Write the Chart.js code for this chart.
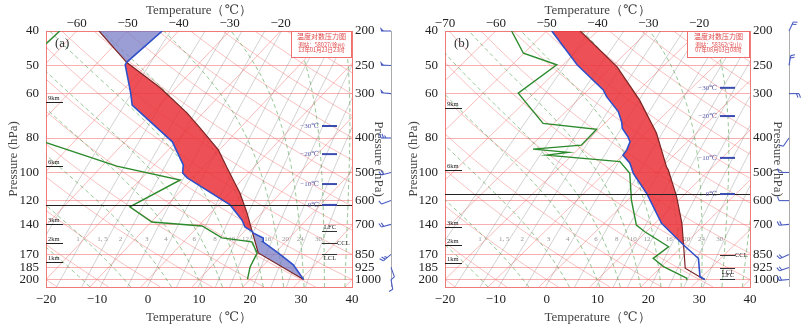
<!DOCTYPE html>
<html>
<head>
<meta charset="utf-8">
<script src="https://cdn.jsdelivr.net/npm/chart.js@4.4.0/dist/chart.umd.min.js"></script>
<style>
body { margin: 0; background: #fff; }
#wrap { position: relative; width: 812px; height: 330px; }
.panel { position: absolute; top: 0; height: 330px; }
</style>
</head>
<body>
<div id="wrap">
  <div class="panel" style="left:0;width:400px"><canvas id="chartA"></canvas></div>
  <div class="panel" style="left:400px;width:412px"><canvas id="chartB"></canvas></div>
</div>
<script>
// ---- values ----
var pressureTicks = [200, 250, 300, 400, 500, 600, 700, 850, 925, 1000];
var bottomTempTicks = [-20, -10, 0, 10, 20, 30, 40];
var topTempTicksA = [-60, -50, -40, -30, -20];
var topTempTicksB = [-70, -60, -50, -40, -30, -20];

// (a) 58027 徐州
var envP_A = [1000, 910, 842, 784, 764, 740, 732, 712, 680, 617, 518, 502, 476, 410, 323, 299, 249, 245, 200];
var envT_A = [30.5, 25.8, 20.6, 15.6, 14.9, 12.0, 11.5, 9.3, 7.4, 2.3, -11.1, -12.9, -14.3, -20.7, -35.4, -37.9, -44.2, -44.4, -43.2];
var parP_A = [1000, 842, 732, 650, 571, 486, 432, 375, 340, 289, 245, 200];
var parT_A = [30.5, 16.7, 11.5, 7.1, 2.0, -5.1, -10.2, -17.8, -23.2, -33.1, -44.4, -55.6];
var dewP_A = [1000, 922, 842, 784, 764, 707, 689, 625, 525, 480, 413, 300, 216, 200];
var dewT_A = [19.5, 17.7, 16.5, 13.4, 6.8, 0.7, -9.9, -17.0, -12.1, -27.1, -45.1, -70, -63.6, -63.3];
var heightP_A = [317, 478, 699, 791, 891];
var isoP_A = [370, 444, 539, 617];
var levelP_A = [730, 790, 848];
var levelNames_A = ['LFC', 'CCL', 'LCL'];
var windDir_A = [270, 272, 275, 270, 255, 250, 255, 230, 160, 170];
var windSpd_A = [20, 20, 24, 12, 6, 2, 8, 10, 4, 4];
var title_A = ['温度对数压力图', '测站：58027(徐州)', '13年01月23日23时'];

// (b) 58362 宝山
var envP_B = [1000, 982, 872, 863, 800, 695, 572, 503, 471, 447, 432, 410, 397, 376, 360, 337, 306, 293, 249, 200];
var envT_B = [31.1, 29.6, 25.6, 24.9, 20.0, 11.3, 2.3, -4.3, -7.0, -10.0, -10.3, -11.3, -12.7, -15.5, -17.0, -19.7, -25.0, -27.0, -37.2, -49.0];
var parP_B = [1000, 992, 930, 800, 695, 585, 492, 482, 388, 313, 252, 200];
var parT_B = [31.1, 30.3, 25.0, 20.0, 15.3, 8.9, 1.9, 0.9, -7.8, -17.8, -29.0, -43.4];
var dewP_B = [1000, 992, 920, 872, 809, 734, 703, 598, 503, 466, 447, 439, 430, 419, 378, 364, 299, 249, 231, 200];
var dewT_B = [27.5, 27.3, 20.4, 16.7, 17.4, 9.7, 6.7, 0.7, -5.0, -9.3, -25.0, -21.3, -28.9, -20.2, -20.4, -32.1, -43.1, -41.2, -50.1, -56.9];
var heightP_B = [330, 492, 710, 800, 897];
var isoP_B = [289, 347, 455, 575];
var levelP_B = [853, 929, 995];
var levelNames_B = ['CCL', 'LCL', 'LFC'];
var windDir_B = [25, 10, 90, 215, 270, 270, 265, 245, 250, 265];
var windSpd_B = [6, 6, 6, 4, 4, 2, 6, 6, 6, 8];
var title_B = ['温度对数压力图', '测站：58362(宝山)', '07年08月03日08时'];

var heightNames = ['9km', '6km', '3km', '2km', '1km'];
var isoNames = ['\u221230℃', '\u221220℃', '\u221210℃', '0℃'];

// background reference lines (chart grid, not data)
var isotherms = [];
for (var t = -140; t <= 40; t += 10) isotherms.push(t);
var dryThetas = [];
for (var th = -30; th <= 190; th += 10) dryThetas.push(th);
var moistStarts = [-20, -10, -2, 6, 12, 16, 20, 24, 28, 32, 36, 40];
var mixRatios = [0.5, 1, 1.5, 2, 3, 4, 6, 8, 10, 12, 16, 20, 24, 30];

var serif = "'Liberation Serif', 'DejaVu Serif', serif";
var cjk = "'Noto Sans CJK SC', sans-serif";
Chart.defaults.font.family = serif;
Chart.defaults.color = '#333';

function skewX(T, p, shift) { return T + shift * Math.log(1000 / p) / Math.log(5); }
function toPoints(P, T, shift) {
    return P.map(function (p, i) { return { x: skewX(T[i], p, shift), y: p }; });
}
function between(P, T, lo, hi, shift) {
    var out = [];
    P.forEach(function (p, i) { if (p >= lo && p <= hi) out.push({ x: skewX(T[i], p, shift), y: p }); });
    return out;
}
function minus(v) { return v < 0 ? '\u2212' + Math.abs(v) : '' + v; }

function moistCurve(T0, steps) {
    var out = [], T = T0 + 273.15, p = steps[0];
    out.push(T0);
    for (var i = 1; i < steps.length; i++) {
        for (var k = 0; k < 5; k++) {
            var Tc = T - 273.15;
            var es = 6.112 * Math.exp(17.67 * Tc / (Tc + 243.5));
            var rs = 0.622 * es / (p - es);
            var num = 287.04 * T + 2.501e6 * rs;
            var den = 1005.7 + 2.501e6 * 2.501e6 * rs * 0.622 / (287.04 * T * T);
            T += num / den / p * -2;
            p -= 2;
        }
        out.push(T - 273.15);
    }
    return out;
}
function mixTd(w, p) {
    var e = (w / 1000) * p / (0.622 + w / 1000);
    var l = Math.log(e / 6.112);
    return 243.5 * l / (17.67 - l);
}

function makeBackground(shift) {
    return {
        id: 'skewBackground',
        beforeDatasetsDraw: function (chart) {
            var ctx = chart.ctx, a = chart.chartArea, xs = chart.scales.x, ys = chart.scales.y;
            var steps = [];
            for (var p = 1050; p >= 200; p -= 10) steps.push(p);
            function curve(Ts, Ps, color, width, dash) {
                ctx.beginPath();
                Ps.forEach(function (pp, i) {
                    var X = xs.getPixelForValue(skewX(Ts[i], pp, shift)), Y = ys.getPixelForValue(pp);
                    if (i === 0) ctx.moveTo(X, Y); else ctx.lineTo(X, Y);
                });
                ctx.strokeStyle = color; ctx.lineWidth = width; ctx.setLineDash(dash || []); ctx.stroke();
            }
            ctx.save();
            ctx.beginPath(); ctx.rect(a.left, a.top, a.right - a.left, a.bottom - a.top); ctx.clip();
            mixRatios.forEach(function (w) {
                curve(steps.map(function (pp) { return mixTd(w, pp); }), steps, 'rgba(110,110,110,0.45)', 0.7);
            });
            isotherms.forEach(function (T) {
                curve([T, T], [1050, 200], 'rgba(240,100,100,0.55)', 0.8);
            });
            dryThetas.forEach(function (th) {
                curve(steps.map(function (pp) { return (th + 273.15) * Math.pow(pp / 1000, 0.286) - 273.15; }), steps, 'rgba(240,100,100,0.5)', 0.8);
            });
            moistStarts.forEach(function (T0) {
                curve(moistCurve(T0, steps), steps, 'rgba(60,150,60,0.6)', 0.9, [4, 3]);
            });
            // mixing ratio labels
            ctx.setLineDash([]);
            ctx.font = '7px ' + serif; ctx.fillStyle = 'rgba(120,120,120,0.8)'; ctx.textAlign = 'center';
            mixRatios.forEach(function (w) {
                var X = xs.getPixelForValue(skewX(mixTd(w, 780), 780, shift));
                ctx.fillText(('' + w).replace('.', ', '), X - 4, ys.getPixelForValue(780));
            });
            ctx.restore();
        }
    };
}

function drawBarb(ctx, x, y, dir, spd) {
    var L = 10, r = dir * Math.PI / 180, dx = Math.sin(r), dy = -Math.cos(r);
    var ex = x + dx * L, ey = y + dy * L;
    ctx.beginPath(); ctx.moveTo(x, y); ctx.lineTo(ex, ey); ctx.stroke();
    if (spd >= 20) {
        // pennant
        ctx.beginPath(); ctx.moveTo(ex, ey);
        ctx.lineTo(ex - dy * 4 + dx * 1, ey + dx * 4 + dy * 1);
        ctx.lineTo(ex - dx * 3, ey - dy * 3); ctx.closePath(); ctx.fill();
        return;
    }
    var n = Math.max(1, Math.round(spd / 4));
    ctx.beginPath();
    for (var i = 0; i < Math.min(n, 3); i++) {
        var bx = ex - dx * i * 2.5, by = ey - dy * i * 2.5;
        var len = (i === Math.min(n, 3) - 1 && n % 2 === 1 && n > 1) ? 2.5 : 4;
        ctx.moveTo(bx, by); ctx.lineTo(bx - dy * len + dx * 1.5, by + dx * len + dy * 1.5);
    }
    ctx.stroke();
}

function makeAnnotations(d) {
    return {
        id: 'skewAnnotations',
        afterDraw: function (chart) {
            var ctx = chart.ctx, a = chart.chartArea, ys = chart.scales.y;
            ctx.save();
            // 0 degree level line
            var y0 = Math.round(ys.getPixelForValue(d.isoP[3])) + 0.5;
            ctx.strokeStyle = '#222'; ctx.lineWidth = 1;
            ctx.beginPath(); ctx.moveTo(a.left, y0); ctx.lineTo(a.right, y0); ctx.stroke();
            // panel label
            ctx.font = '13px ' + serif; ctx.fillStyle = '#333'; ctx.textAlign = 'left'; ctx.textBaseline = 'middle';
            ctx.fillText(d.label, a.left + 9, a.top + 13);
            // title box
            var bw = d.boxW, bx = a.right - bw;
            ctx.fillStyle = '#fff'; ctx.fillRect(bx, a.top, bw, 26);
            ctx.strokeStyle = '#f07070'; ctx.lineWidth = 1; ctx.strokeRect(bx + 0.5, a.top + 0.5, bw - 1, 26);
            ctx.fillStyle = '#e04848'; ctx.textAlign = 'center';
            ctx.font = '7px ' + cjk; ctx.fillText(d.title[0], bx + bw / 2, a.top + 5);
            ctx.font = '5.5px ' + cjk;
            ctx.fillText(d.title[1], bx + bw / 2, a.top + 13.5);
            ctx.fillText(d.title[2], bx + bw / 2, a.top + 19);
            // height marks
            ctx.font = '6.5px ' + serif; ctx.textAlign = 'left'; ctx.textBaseline = 'bottom';
            ctx.strokeStyle = '#222'; ctx.fillStyle = '#222'; ctx.lineWidth = 1;
            d.heightP.forEach(function (p, i) {
                var y = Math.round(ys.getPixelForValue(p)) + 0.5;
                ctx.beginPath(); ctx.moveTo(a.left, y); ctx.lineTo(a.left + 17, y); ctx.stroke();
                ctx.fillText(heightNames[i], a.left + 2, y - 1);
            });
            // isotherm heights
            ctx.textAlign = 'right'; ctx.textBaseline = 'middle'; ctx.font = '7px ' + serif;
            d.isoP.forEach(function (p, i) {
                var y = ys.getPixelForValue(p);
                ctx.fillStyle = '#5a5aa8'; ctx.fillText(isoNames[i], a.right - 33, y);
                ctx.strokeStyle = '#3a4cb0'; ctx.lineWidth = 2;
                ctx.beginPath(); ctx.moveTo(a.right - 30, y); ctx.lineTo(a.right - 15, y); ctx.stroke();
            });
            // LFC / CCL / LCL
            ctx.font = '6.5px ' + serif; ctx.fillStyle = '#222'; ctx.strokeStyle = '#333'; ctx.lineWidth = 1;
            d.levelP.forEach(function (p, i) {
                var y = Math.round(ys.getPixelForValue(p)) + 0.5, name = d.levelNames[i];
                ctx.beginPath(); ctx.moveTo(a.right - 30, y); ctx.lineTo(a.right - 15, y); ctx.stroke();
                if (name === 'CCL') { ctx.textAlign = 'left'; ctx.textBaseline = 'middle'; ctx.fillText(name, a.right - 15, y); }
                else if (name === 'LFC') { ctx.textAlign = 'center'; ctx.textBaseline = 'bottom'; ctx.fillText(name, a.right - 22, y - 1); }
                else { ctx.textAlign = 'center'; ctx.textBaseline = 'top'; ctx.fillText(name, a.right - 22, y + 1); }
            });
            // wind barbs
            ctx.strokeStyle = '#aaa'; ctx.lineWidth = 1;
            ctx.beginPath(); ctx.moveTo(d.barbX + 0.5, a.top); ctx.lineTo(d.barbX + 0.5, a.bottom); ctx.stroke();
            ctx.strokeStyle = '#4a5cc0'; ctx.fillStyle = '#4a5cc0'; ctx.lineWidth = 1.1;
            pressureTicks.forEach(function (p, i) {
                drawBarb(ctx, d.barbX, ys.getPixelForValue(p), d.windDir[i], d.windSpd[i]);
            });
            ctx.restore();
        }
    };
}

function makePanel(id, d) {
    var sh = d.shift, frame = '#ee7a7a';
    var datasets = [];
    d.fills.forEach(function (f) {
        var env = between(d.envP, d.envT, f[0], f[1], sh);
        var par = between(d.parP, d.parT, f[0], f[1], sh).reverse();
        datasets.push({ data: env.concat(par), showLine: true, fill: 'shape', backgroundColor: f[2],
            borderWidth: 0, pointRadius: 0, order: 10 });
    });
    datasets.push({ label: 'T', data: toPoints(d.envP, d.envT, sh), showLine: true, borderColor: '#2f4fc9', borderWidth: 1.6, pointRadius: 0, fill: false, order: 0 });
    datasets.push({ label: 'Parcel', data: toPoints(d.parP, d.parT, sh), showLine: true, borderColor: '#7b2424', borderWidth: 1.2, pointRadius: 0, fill: false, order: 1 });
    datasets.push({ label: 'Td', data: toPoints(d.dewP, d.dewT, sh), showLine: true, borderColor: '#2c8a2c', borderWidth: 1.4, pointRadius: 0, fill: false, order: 2 });

    var tickFont = { size: 13, family: serif };
    var titleFont = { size: 13, family: serif };
    new Chart(document.getElementById(id).getContext('2d'), {
        type: 'scatter',
        data: { datasets: datasets },
        options: {
            responsive: true, maintainAspectRatio: false, animation: false,
            layout: { padding: { left: 0, right: d.padRight, top: 0, bottom: 0 } },
            plugins: { legend: { display: false }, tooltip: { enabled: false } },
            scales: {
                x: {
                    type: 'linear', position: 'bottom', min: -20, max: 40,
                    afterBuildTicks: function (s) { s.ticks = bottomTempTicks.map(function (v) { return { value: v }; }); },
                    ticks: { padding: 5, font: tickFont, color: '#222', callback: minus },
                    grid: { display: false, drawTicks: false }, border: { color: frame },
                    title: { display: true, text: 'Temperature（℃）', font: titleFont, color: '#444', padding: { top: 0, bottom: 5 } },
                    afterFit: function (s) { s.height = 43; }
                },
                x2: {
                    type: 'linear', position: 'top', min: -20 - sh, max: 40 - sh,
                    afterBuildTicks: function (s) { s.ticks = d.topTicks.map(function (v) { return { value: v }; }); },
                    ticks: { padding: 0, font: tickFont, color: '#222', callback: minus },
                    grid: { display: false, drawTicks: false }, border: { color: frame },
                    title: { display: true, text: 'Temperature（℃）', font: titleFont, color: '#444', padding: { top: 3, bottom: 0 } },
                    afterFit: function (s) { s.height = 31; }
                },
                y: {
                    type: 'logarithmic', position: 'left', reverse: true, min: 200, max: 1050,
                    afterBuildTicks: function (s) { s.ticks = pressureTicks.map(function (v) { return { value: v }; }); },
                    ticks: { autoSkip: false, padding: 7, font: tickFont, color: '#222', callback: function (v) { return v / 5; } },
                    grid: { color: 'rgba(240,110,110,0.55)', lineWidth: 1, drawTicks: false }, border: { color: frame },
                    title: { display: true, text: 'Pressure (hPa)', font: titleFont, color: '#444', padding: { top: 6, bottom: 0 } },
                    afterFit: function (s) { s.width = d.leftW; }
                },
                y2: {
                    type: 'logarithmic', position: 'right', reverse: true, min: 200, max: 1050,
                    afterBuildTicks: function (s) { s.ticks = pressureTicks.map(function (v) { return { value: v }; }); },
                    ticks: { autoSkip: false, padding: 3, font: tickFont, color: '#222', callback: function (v) { return v; } },
                    grid: { display: false, drawTicks: false }, border: { color: frame },
                    title: { display: true, text: 'Pressure (hPa)', font: titleFont, color: '#444', padding: { top: 4, bottom: 0 } },
                    afterFit: function (s) { s.width = d.rightW; }
                }
            }
        },
        plugins: [makeBackground(sh), makeAnnotations(d)]
    });
}

var cape = 'rgba(234,50,58,0.85)', cin = 'rgba(122,126,198,0.75)';

makePanel('chartA', {
    shift: 46, topTicks: topTempTicksA, leftW: 46, rightW: 38, padRight: 10,
    envP: envP_A, envT: envT_A, parP: parP_A, parT: parT_A, dewP: dewP_A, dewT: dewT_A,
    fills: [[732, 1000, cin], [245, 732, cape], [200, 245, cin]],
    heightP: heightP_A, isoP: isoP_A, levelP: levelP_A, levelNames: levelNames_A,
    windDir: windDir_A, windSpd: windSpd_A, title: title_A, label: '(a)', boxW: 61,
    barbX: 391
});
makePanel('chartB', {
    shift: 50, topTicks: topTempTicksB, leftW: 45, rightW: 39, padRight: 23,
    envP: envP_B, envT: envT_B, parP: parP_B, parT: parT_B, dewP: dewP_B, dewT: dewT_B,
    fills: [[200, 800, cape]],
    heightP: heightP_B, isoP: isoP_B, levelP: levelP_B, levelNames: levelNames_B,
    windDir: windDir_B, windSpd: windSpd_B, title: title_B, label: '(b)', boxW: 63,
    barbX: 389
});
</script>
</body>
</html>
